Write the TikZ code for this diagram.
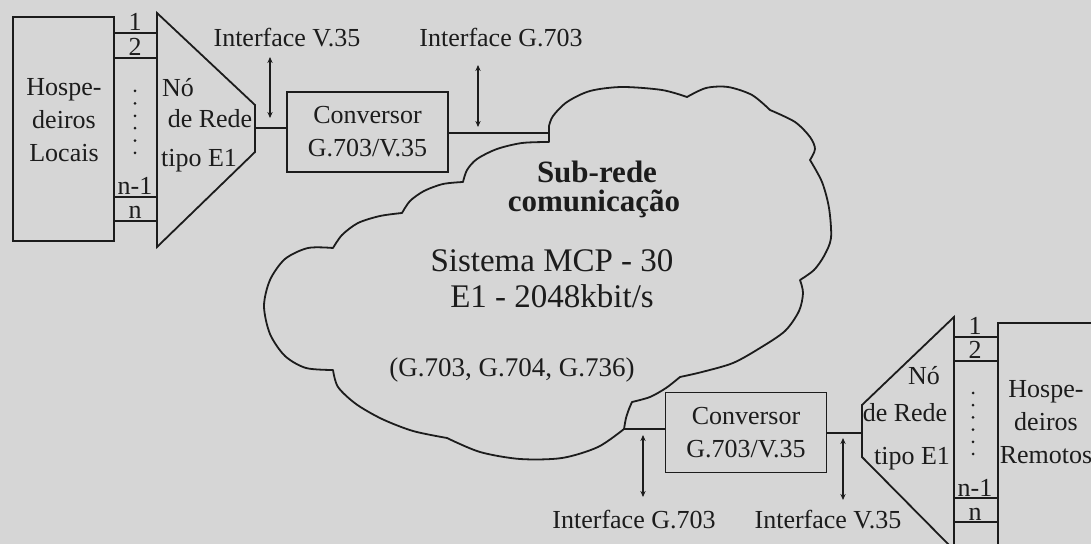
\documentclass[tikz,border=0pt]{standalone}
\usepackage{fontspec}
\setmainfont{Liberation Serif}
\usetikzlibrary{arrows.meta, positioning}
\definecolor{paper}{RGB}{214,214,214}
\definecolor{ink}{RGB}{28,28,28}

\begin{document}
\begin{tikzpicture}[x=0.5pt, y=-0.5pt, line width=0.9pt, color=ink,
    lbl/.style={font=\fontsize{13pt}{16.5pt}\selectfont, inner sep=0pt},
    big/.style={font=\fontsize{16.5pt}{20pt}\selectfont, inner sep=0pt},
    conv/.style={draw, lbl, align=center, minimum width=80.5pt, minimum height=40pt},
    iface/.style={{Stealth[length=3pt,width=2.6pt]}-{Stealth[length=3pt,width=2.6pt]}, line width=0.6pt}]
\useasboundingbox (0,0) rectangle (1091,544);
\fill[paper] (0,0) rectangle (1091,544);
\clip (0,0) rectangle (1091,544);

% === LOCAL SIDE: hosts, E1 node, converter ===
\node[draw, anchor=north west, minimum width=50.5pt, minimum height=112pt, inner sep=0pt] (hostL) at (12,16) {};
\node[lbl, align=center] (hostLtxt) at (64,120) {Hospe-\\deiros\\Locais};
\draw (157,13) -- (255,105) -- (255,152) -- (157,247) -- cycle;
\coordinate (muxLin) at (157,130);
\coordinate (muxLout) at (255,128);
\node[lbl, anchor=base] (muxLa) at (178,97) {Nó};
\node[lbl, anchor=base] (muxLb) at (210,128) {de Rede};
\node[lbl, anchor=base] (muxLc) at (199,167) {tipo E1};
\foreach \y/\lab/\nm in {33/1/chLa, 58/2/chLb, 197/n-1/chLc, 221/n/chLd} {
    \draw (hostL.east |- 0,\y) -- (muxLin |- 0,\y);
    \node[lbl, anchor=base] (\nm) at (135,{\y-2}) {\lab};
}
\foreach \k in {0,...,5}
    \fill (135,{91+12.4*\k}) circle (1.5);
\node[conv] (convL) at (367.5,132) {Conversor\\G.703/V.35};
\draw (muxLout) -- (muxLout -| convL.west);
\coordinate (cloudA) at (549,133);
\draw (convL.east |- cloudA) -- (cloudA);
\node[lbl, anchor=base] (ifV35L) at (287,47) {Interface V.35};
\node[lbl, anchor=base] (ifG703L) at (501,47) {Interface G.703};

% === CLOUD: communication sub-network ===
\draw[line join=round] (549,126) -- (549,142)
    -- plot[smooth] coordinates {(549,142) (522,143) (497,149) (477,159) (467,170) (463,182)}
    -- plot[smooth] coordinates {(463,182) (443,184) (424,191) (410,201) (402,213)}
    -- plot[smooth] coordinates {(402,213) (380,216) (358,223) (342,235) (333,248)}
    -- plot[smooth] coordinates {(333,248) (308,248) (285,259) (270,280) (264,306) (270,334) (285,356) (306,368) (333,370)}
    -- plot[smooth] coordinates {(333,370) (338,387) (356,404) (382,419) (413,431) (447,438)}
    -- plot[smooth] coordinates {(447,438) (480,452) (520,459) (562,458) (598,447) (624,429)}
    -- plot[smooth] coordinates {(624,429) (626,418) (629,409) (632,402)}
    -- plot[smooth] coordinates {(632,402) (650,397) (666,388) (680,377)}
    -- plot[smooth] coordinates {(680,377) (702,372) (733,363) (760,348) (785,331) (799,311) (803,293) (800,280)}
    -- plot[smooth] coordinates {(800,280) (814,270) (824,256) (831,238) (829,208) (822,182) (810,160)}
    -- plot[smooth] coordinates {(810,160) (815,149) (810,137) (795,122) (770,110)}
    -- plot[smooth] coordinates {(770,110) (752,95) (728,87) (706,88) (687,97)}
    -- plot[smooth] coordinates {(687,97) (662,90) (622,87) (590,91) (567,102) (553,116) (549,126)}
    -- cycle;
\coordinate (cloudB) at (624,429);
\node[big, anchor=base, font=\fontsize{15.5pt}{20pt}\selectfont\bfseries] (subA) at (597,183) {Sub-rede};
\node[big, anchor=base, font=\fontsize{15.5pt}{20pt}\selectfont\bfseries] (subB) at (594,212) {comunicação};
\node[big, anchor=base] (mcpA) at (552,272) {Sistema MCP - 30};
\node[big, anchor=base] (mcpB) at (552,308) {E1 - 2048kbit/s};
\node[big, anchor=base, font=\fontsize{13.5pt}{16pt}\selectfont] (mcpC) at (512,377) {(G.703, G.704, G.736)};

% === REMOTE SIDE: converter, E1 node, hosts ===
\node[conv] (convR) at (746,432.5) {Conversor\\G.703/V.35};
\draw (cloudB) -- (cloudB -| convR.west);
\draw (862,405) -- (954,317) -- (954,550) -- (862,457) -- cycle;
\coordinate (muxRin) at (862,433);
\coordinate (muxRout) at (954,430);
\draw (convR.east |- muxRin) -- (muxRin);
\node[lbl, anchor=base] (muxRa) at (924,385) {Nó};
\node[lbl, anchor=base] (muxRb) at (905,422) {de Rede};
\node[lbl, anchor=base] (muxRc) at (912,465) {tipo E1};
\node[draw, anchor=north west, minimum width=60pt, minimum height=130pt, inner sep=0pt] (hostR) at (997,322) {};
\node[lbl, align=center] (hostRtxt) at (1046,422) {Hospe-\\deiros\\Remotos};
\foreach \y/\lab/\nm in {337/1/chRa, 361/2/chRb, 498/n-1/chRc, 522/n/chRd} {
    \draw (muxRout |- 0,\y) -- (hostR.west |- 0,\y);
    \node[lbl, anchor=base] (\nm) at (975,{\y-2}) {\lab};
}
\foreach \k in {0,...,5}
    \fill (973,{393+12.2*\k}) circle (1.5);
\node[lbl, anchor=base] (ifG703R) at (634,528) {Interface G.703};
\node[lbl, anchor=base] (ifV35R) at (828,528) {Interface V.35};

% interface markers
\foreach \nm/\x/\ya/\yb in {aV35L/270/57/118, aG703L/478/65/127, aG703R/643/435/497, aV35R/843/438/500} {
    \coordinate (\nm-a) at (\x,\ya);
    \coordinate (\nm-b) at (\x,\yb);
    \draw[iface] (\nm-a) -- (\nm-b);
}
\end{tikzpicture}
\end{document}
